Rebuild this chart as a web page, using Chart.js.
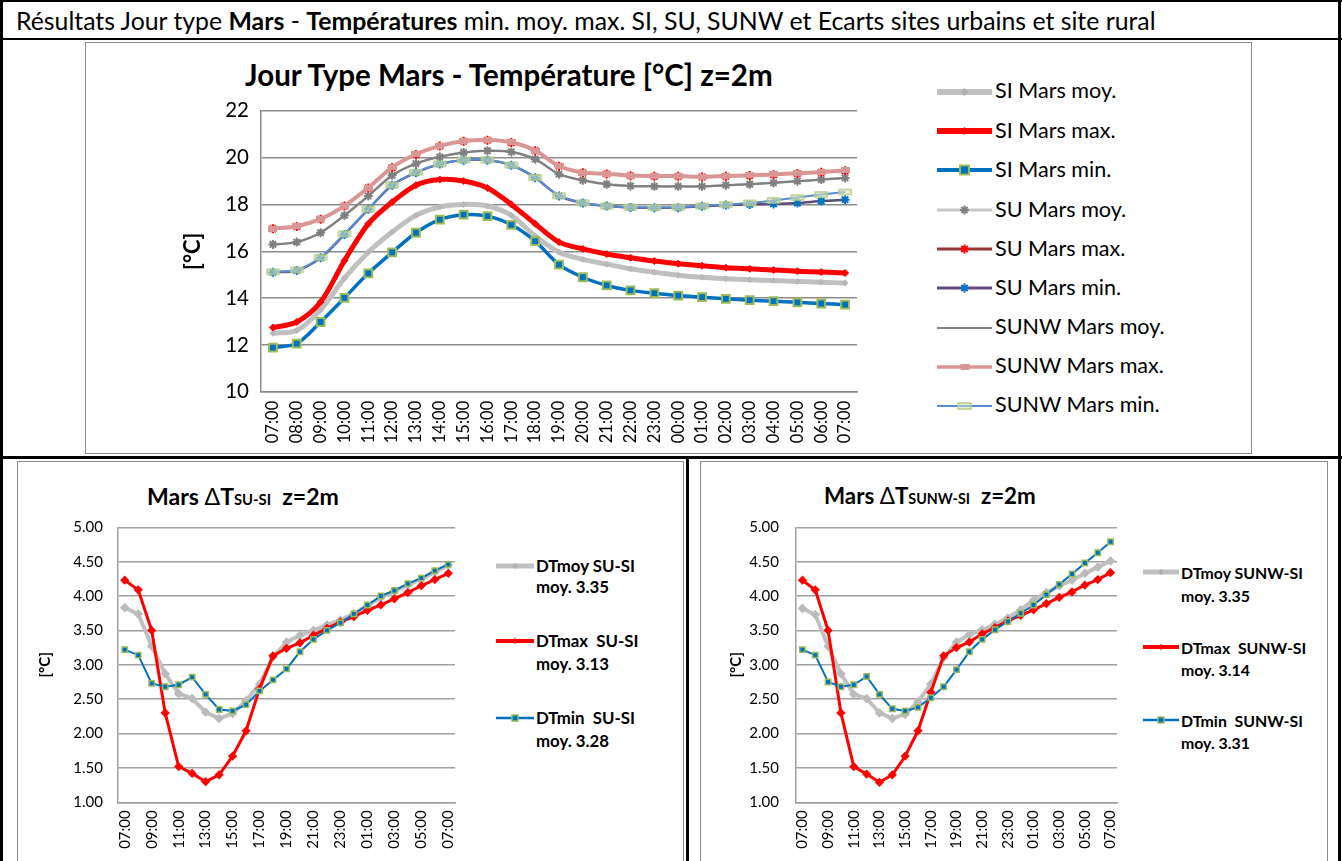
<!DOCTYPE html>
<html><head><meta charset="utf-8">
<script src="https://cdn.jsdelivr.net/npm/chart.js@4.4.1/dist/chart.umd.min.js"></script>
<style>
html,body{margin:0;padding:0;background:#fff;}
body{width:1342px;height:861px;position:relative;overflow:hidden;font-family:Lato,'Open Sans',sans-serif;color:#000;}
.bk{position:absolute;background:#000;}
.box{position:absolute;border:1.5px solid #8c8c8c;box-sizing:border-box;}
.txt{position:absolute;white-space:pre;line-height:1;}
canvas{position:absolute;}
svg{position:absolute;overflow:visible;}
</style></head><body>
<script>
// ---------- DATA ----------
const hours = ['07:00','08:00','09:00','10:00','11:00','12:00','13:00','14:00','15:00','16:00','17:00','18:00','19:00','20:00','21:00','22:00','23:00','00:00','01:00','02:00','03:00','04:00','05:00','06:00','07:00'];

const siMoy   = [12.50,12.62,13.50,14.85,15.96,16.82,17.53,17.89,18.00,17.93,17.53,16.65,15.96,15.65,15.45,15.25,15.10,14.98,14.89,14.83,14.78,14.75,14.71,14.68,14.64];
const siMax   = [12.74,12.98,13.83,15.60,17.17,18.10,18.82,19.06,19.00,18.70,18.00,17.17,16.39,16.10,15.88,15.72,15.58,15.47,15.38,15.30,15.25,15.20,15.15,15.11,15.07];
const siMin   = [11.89,12.06,12.98,14.01,15.06,15.95,16.79,17.35,17.56,17.50,17.13,16.43,15.43,14.89,14.54,14.33,14.21,14.11,14.04,13.97,13.91,13.87,13.82,13.77,13.72];
const suMoy   = [16.29,16.39,16.79,17.53,18.36,19.24,19.74,20.03,20.22,20.29,20.24,19.93,19.29,19.03,18.86,18.79,18.77,18.77,18.77,18.82,18.86,18.92,18.99,19.06,19.13];
const suMax   = [16.96,17.06,17.37,17.93,18.70,19.57,20.13,20.49,20.70,20.74,20.64,20.29,19.63,19.35,19.30,19.22,19.20,19.20,19.17,19.20,19.23,19.27,19.32,19.37,19.44];
const suMin   = [15.10,15.18,15.72,16.72,17.79,18.82,19.36,19.72,19.89,19.89,19.67,19.14,18.36,18.06,17.93,17.87,17.86,17.86,17.92,17.97,18.00,18.02,18.06,18.14,18.20];
const sunwMoy = [16.29,16.39,16.79,17.53,18.36,19.24,19.74,20.03,20.22,20.29,20.24,19.93,19.29,19.03,18.86,18.79,18.77,18.77,18.77,18.82,18.86,18.92,18.99,19.06,19.13];
const sunwMax = [16.97,17.07,17.38,17.94,18.71,19.58,20.14,20.50,20.71,20.75,20.65,20.30,19.64,19.36,19.31,19.23,19.21,19.21,19.18,19.21,19.24,19.28,19.33,19.38,19.45];
const sunwMin = [15.12,15.20,15.74,16.74,17.80,18.83,19.37,19.73,19.90,19.90,19.68,19.15,18.37,18.07,17.93,17.88,17.87,17.88,17.93,17.99,18.06,18.17,18.29,18.42,18.53];

const dSuMoy   = [3.83,3.74,3.27,2.87,2.58,2.51,2.31,2.22,2.29,2.48,2.72,3.11,3.33,3.43,3.50,3.58,3.65,3.74,3.86,3.98,4.07,4.16,4.25,4.35,4.45];
const dSuMax   = [4.23,4.09,3.50,2.30,1.52,1.42,1.30,1.40,1.67,2.04,2.65,3.13,3.24,3.32,3.43,3.53,3.62,3.70,3.79,3.87,3.96,4.05,4.15,4.24,4.33];
const dSuMin   = [3.22,3.14,2.73,2.68,2.71,2.82,2.57,2.35,2.33,2.42,2.62,2.78,2.94,3.19,3.37,3.50,3.61,3.74,3.87,4.00,4.08,4.18,4.26,4.37,4.46];
const dSunwMoy = [3.82,3.73,3.27,2.87,2.57,2.51,2.30,2.22,2.28,2.46,2.72,3.10,3.33,3.44,3.51,3.59,3.68,3.80,3.94,4.05,4.15,4.23,4.33,4.42,4.51];
const dSunwMax = [4.23,4.09,3.50,2.30,1.52,1.41,1.29,1.40,1.67,2.04,2.60,3.13,3.25,3.33,3.45,3.54,3.64,3.72,3.80,3.89,3.98,4.06,4.16,4.24,4.34];
const dSunwMin = [3.22,3.14,2.75,2.68,2.71,2.83,2.57,2.36,2.33,2.38,2.52,2.68,2.93,3.19,3.37,3.51,3.63,3.75,3.87,4.02,4.17,4.32,4.48,4.63,4.79];

const topLegend = ['SI Mars moy.','SI Mars max.','SI Mars min.','SU Mars moy.','SU Mars max.','SU Mars min.','SUNW Mars moy.','SUNW Mars max.','SUNW Mars min.'];
const suLegend = [['DTmoy SU-SI','moy. 3.35'],['DTmax  SU-SI','moy. 3.13'],['DTmin  SU-SI','moy. 3.28']];
const sunwLegend = [['DTmoy SUNW-SI','moy. 3.35'],['DTmax  SUNW-SI','moy. 3.14'],['DTmin  SUNW-SI','moy. 3.31']];

// ---------- helpers ----------
const FONT = 'Lato';
function el(tag, cls, css){ const e=document.createElement(tag); if(cls) e.className=cls; if(css) Object.assign(e.style, css); document.body.appendChild(e); return e; }
function rectDiv(x,y,w,h){ el('div','bk',{left:x+'px',top:y+'px',width:w+'px',height:h+'px'}); }
function box(x,y,w,h){ el('div','box',{left:x+'px',top:y+'px',width:w+'px',height:h+'px'}); }
function fitText(e, targetW, base){ e.style.fontSize=base+'px'; const w=e.getBoundingClientRect().width; const fs=base*targetW/w; e.style.fontSize=fs+'px'; return fs; }
function placeText(e, x, cy, fs){ e.style.left=x+'px'; e.style.top=(cy-0.53*fs)+'px'; }
function markerCanvas(w,h,fill,stroke,lw){ const c=document.createElement('canvas'); const p=Math.ceil(lw); c.width=w+2*p; c.height=h+2*p; const g=c.getContext('2d'); g.fillStyle=fill; g.fillRect(p,p,w,h); if(stroke){g.strokeStyle=stroke; g.lineWidth=lw; g.strokeRect(p,p,w,h);} return c; }
function mkCanvas(left, top, w, h){ const c=document.createElement('canvas'); c.width=w; c.height=h; Object.assign(c.style,{left:left+'px',top:top+'px',width:w+'px',height:h+'px'}); document.body.appendChild(c); return c; }

// ---------- table frame ----------
rectDiv(0,0,1342,2);
rectDiv(0,0,3,861);
rectDiv(1338,0,3,861);
rectDiv(0,38,1342,2);
rectDiv(0,456,1342,3);
rectDiv(686,456,3,405);
box(85,42,1167,412);
box(17,461,667,420);
box(700,461,628,420);

// ---------- header ----------
const hdr = el('div','txt');
hdr.innerHTML = 'Résultats Jour type <b>Mars</b> - <b>Températures</b> min. moy. max. SI, SU, SUNW et Ecarts sites urbains et site rural';
let fs = fitText(hdr, 1140, 20); placeText(hdr, 16, 22, fs);

// top title
const t1 = el('div','txt',{fontWeight:'bold'});
t1.textContent = 'Jour Type Mars - Température [°C] z=2m';
fs = fitText(t1, 528, 26); placeText(t1, 245, 76, fs);

// bottom titles
function smallTitle(sub, x, w){
  const e = el('div','txt',{fontWeight:'bold'});
  e.innerHTML = 'Mars <span style="font-weight:normal">Δ</span>T<span style="font-size:0.64em">'+sub+'</span>  z=2m';
  const f = fitText(e, w, 20); placeText(e, x, 497, f);
}
smallTitle('SU-SI',147,192);
smallTitle('SUNW-SI',824,212);

// ---------- top legend ----------
const starPath = (cx,cy,r)=>`M${cx-r},${cy}L${cx+r},${cy}M${cx},${cy-r}L${cx},${cy+r}M${cx-r*0.7},${cy-r*0.7}L${cx+r*0.7},${cy+r*0.7}M${cx-r*0.7},${cy+r*0.7}L${cx+r*0.7},${cy-r*0.7}`;
const topStyles = [
  {c:'#C0C0C0', w:6, m:'dia', mc:'#B0B0B0'},
  {c:'#FF0000', w:6, m:'dia', mc:'#FF0000'},
  {c:'#0070C0', w:4, m:'sq'},
  {c:'#C8C8C8', w:3, m:'star', mc:'#808080'},
  {c:'#953735', w:3, m:'star', mc:'#FF0000'},
  {c:'#604A7B', w:3, m:'star', mc:'#0070C0'},
  {c:'#808080', w:2, m:null},
  {c:'#D99694', w:3.5, m:'pink'},
  {c:'#558ED5', w:2, m:'green'}
];
const topLegY = [91.7,131,170,210,249,288.3,327.7,366.7,405.7];
let legFs = null;
topLegend.forEach((lab,i)=>{
  const st = topStyles[i], cy = topLegY[i];
  const s = document.createElementNS('http://www.w3.org/2000/svg','svg');
  s.setAttribute('width','60'); s.setAttribute('height','20');
  s.style.left='937px'; s.style.top=(cy-10)+'px';
  let inner = `<line x1="0" y1="10" x2="55" y2="10" stroke="${st.c}" stroke-width="${st.w}"/>`;
  if(st.m==='dia') inner += `<polygon points="27.5,6 31.5,10 27.5,14 23.5,10" fill="${st.mc}"/>`;
  if(st.m==='sq') inner += `<rect x="23" y="5.5" width="9" height="9" fill="#0070C0" stroke="#9BBB59" stroke-width="2"/>`;
  if(st.m==='star') inner += `<path d="${starPath(27.5,10,4.5)}" stroke="${st.mc}" stroke-width="2"/>`;
  if(st.m==='pink') inner += `<rect x="23.5" y="7" width="9" height="6" fill="#D99694"/>`;
  if(st.m==='green') inner += `<rect x="21" y="7" width="13" height="6" fill="rgba(215,228,189,0.5)" stroke="#B5CB88" stroke-width="1.5"/>`;
  s.innerHTML = inner; document.body.appendChild(s);
  const t = el('div','txt'); t.textContent = lab;
  if(legFs===null){ const probe = el('div','txt'); probe.textContent='SUNW Mars max.'; legFs = fitText(probe,169,20); probe.remove(); }
  t.style.fontSize = legFs+'px'; placeText(t, 995, cy, legFs);
});

// ---------- bottom legends ----------
function bottomLegend(items, lineX, textX, w0, ys){
  const probe = el('div','txt',{fontWeight:'bold'}); probe.textContent = items[0][0];
  const f = fitText(probe, w0, 15); probe.remove();
  const st = [{c:'#C0C0C0',w:5,m:'dia',mc:'#B0B0B0'},{c:'#FF0000',w:4,m:'dia',mc:'#FF0000'},{c:'#0070C0',w:2.5,m:'sq'}];
  items.forEach((it,i)=>{
    const [y1,y2] = ys[i];
    const s = document.createElementNS('http://www.w3.org/2000/svg','svg');
    s.setAttribute('width','40'); s.setAttribute('height','14');
    s.style.left=lineX+'px'; s.style.top=(y1-1-7)+'px';
    let inner = `<line x1="0" y1="7" x2="${textX-lineX-2}" y2="7" stroke="${st[i].c}" stroke-width="${st[i].w}"/>`;
    const mx = (textX-lineX-2)/2;
    if(st[i].m==='dia') inner += `<polygon points="${mx},4 ${mx+3},7 ${mx},10 ${mx-3},7" fill="${st[i].mc}"/>`;
    if(st[i].m==='sq') inner += `<rect x="${mx-3}" y="4" width="6" height="6" fill="#0070C0" stroke="#9BBB59" stroke-width="1.5"/>`;
    s.innerHTML = inner; document.body.appendChild(s);
    const a = el('div','txt',{fontWeight:'bold',fontSize:f+'px'}); a.textContent = it[0]; placeText(a, textX, y1, f);
    const b = el('div','txt',{fontWeight:'bold',fontSize:f+'px'}); b.textContent = it[1]; placeText(b, textX, y2, f);
  });
}
bottomLegend(suLegend, 496, 536, 99, [[567,588],[642,665],[719,742]]);
bottomLegend(sunwLegend, 1143, 1181, 122, [[573,596],[648,670],[721,743]]);

// ---------- charts ----------
function fixedY(w){ return s=>{ s.width=w; s.paddingTop=0; s.paddingBottom=0; }; }
function fixedX(h){ return s=>{ s.height=h; s.paddingLeft=0; s.paddingRight=0; }; }

const pinkMk = markerCanvas(9,6,'#D99694',null,0);
const greenMk = markerCanvas(12,5,'rgba(215,228,189,0.55)','#B5CB88',1.5);

function topDs(label, data, o, i){ return Object.assign({label, data, fill:false, tension:0.3, order: 20-i, pointHoverRadius:0}, o); }
const topDatasets = [
  topDs(topLegend[0], siMoy, {borderColor:'#C0C0C0', borderWidth:5, pointStyle:'rectRot', pointRadius:3, pointBackgroundColor:'#B8B8B8', pointBorderColor:'#B8B8B8', pointBorderWidth:1}, 0),
  topDs(topLegend[1], siMax, {borderColor:'#FF0000', borderWidth:5, pointStyle:'rectRot', pointRadius:3.5, pointBackgroundColor:'#FF0000', pointBorderColor:'#FF0000', pointBorderWidth:1}, 1),
  topDs(topLegend[2], siMin, {borderColor:'#0070C0', borderWidth:3.5, pointStyle:'rect', pointRadius:5.5, pointBackgroundColor:'#0070C0', pointBorderColor:'#9BBB59', pointBorderWidth:2}, 2),
  topDs(topLegend[3], suMoy, {borderColor:'#A6A6A6', borderWidth:2.5, pointStyle:'star', pointRadius:4.5, pointBorderColor:'#808080', pointBackgroundColor:'#808080', pointBorderWidth:2}, 3),
  topDs(topLegend[4], suMax, {borderColor:'#953735', borderWidth:2, pointStyle:'star', pointRadius:4.5, pointBorderColor:'#FF0000', pointBackgroundColor:'#FF0000', pointBorderWidth:2}, 4),
  topDs(topLegend[5], suMin, {borderColor:'#604A7B', borderWidth:2.5, pointStyle:'star', pointRadius:4.5, pointBorderColor:'#0070C0', pointBackgroundColor:'#0070C0', pointBorderWidth:2}, 5),
  topDs(topLegend[6], sunwMoy, {borderColor:'#7F7F7F', borderWidth:2, pointRadius:0}, 6),
  topDs(topLegend[7], sunwMax, {borderColor:'#D99694', borderWidth:4, pointStyle:pinkMk, pointRadius:4}, 7),
  topDs(topLegend[8], sunwMin, {borderColor:'#558ED5', borderWidth:2, pointStyle:greenMk, pointRadius:4}, 8)
];

const common = { responsive:false, animation:false, devicePixelRatio:1, events:[],
  plugins:{legend:{display:false}, tooltip:{enabled:false}, title:{display:false}} };

// top chart: plot area x 261..857, y 110.7..391.8
new Chart(mkCanvas(160,100,710,355), {
  type:'line',
  data:{labels:hours, datasets:topDatasets},
  options:Object.assign({}, common, {
    layout:{padding:{left:0,right:13,top:10.7,bottom:0}},
    scales:{
      x:{type:'category', offset:true, afterFit:fixedX(63.2),
         grid:{display:false, drawTicks:false}, border:{display:true,color:'#8C8C8C',width:1.5},
         ticks:{autoSkip:false, minRotation:90, maxRotation:90, padding:9, color:'#000', font:{family:FONT,size:16.5}}},
      y:{min:10, max:22, afterFit:fixedY(101),
         grid:{color:'#8C8C8C', lineWidth:1.5, drawTicks:false}, border:{display:true,color:'#8C8C8C',width:1.5},
         ticks:{stepSize:2, padding:12, color:'#000', font:{family:FONT,size:20.5}},
         title:{display:true, text:'[°C]', color:'#000', font:{family:FONT,size:22,weight:'bold'}, padding:{top:20,bottom:0}}}
    }
  })
});

function bottomChart(left, w, yW, padR, titlePad, tickPad, moy, max, min, names){
  new Chart(mkCanvas(left,515,w,346), {
    type:'line',
    data:{labels:hours, datasets:[
      {label:names[0][0], data:moy, borderColor:'#C0C0C0', borderWidth:4, tension:0, pointStyle:'rectRot', pointRadius:2, pointBackgroundColor:'#BBBBBB', pointBorderColor:'#BBBBBB', order:3},
      {label:names[1][0], data:max, borderColor:'#FF0000', borderWidth:3, tension:0, pointStyle:'rectRot', pointRadius:2.5, pointBackgroundColor:'#FF0000', pointBorderColor:'#FF0000', order:2},
      {label:names[2][0], data:min, borderColor:'#0070C0', borderWidth:2, tension:0, pointStyle:'rect', pointRadius:3.8, pointBackgroundColor:'#0070C0', pointBorderColor:'#9BBB59', pointBorderWidth:1.5, order:1}
    ]},
    options:Object.assign({}, common, {
      layout:{padding:{left:0,right:padR,top:12.3,bottom:0}},
      scales:{
        x:{type:'category', offset:true, afterFit:fixedX(58.7),
           grid:{display:false, drawTicks:false}, border:{display:true,color:'#A0A0A0',width:1.5},
           ticks:{autoSkip:false, minRotation:90, maxRotation:90, padding:8, color:'#000', font:{family:FONT,size:15},
                  callback:function(v,i){ return i%2===0 ? this.getLabelForValue(v) : ''; }}},
        y:{min:1, max:5, afterFit:fixedY(yW),
           grid:{color:'#A0A0A0', lineWidth:1.5, drawTicks:false}, border:{display:true,color:'#A0A0A0',width:1.5},
           ticks:{stepSize:0.5, padding:tickPad, color:'#000', font:{family:FONT,size:15}, callback:v=>Number(v).toFixed(2)},
           title:{display:true, text:'[°C]', color:'#000', font:{family:FONT,size:15,weight:'bold'}, padding:{top:titlePad,bottom:0}}}
      }
    })
  });
}
// left: plot x 118..455 ; right: plot x 796..1117
bottomChart(18, 450, 100, 13, 18, 15, dSuMoy, dSuMax, dSuMin, suLegend);
bottomChart(700, 440, 96, 23, 27, 17, dSunwMoy, dSunwMax, dSunwMin, sunwLegend);
</script>
</body></html>
